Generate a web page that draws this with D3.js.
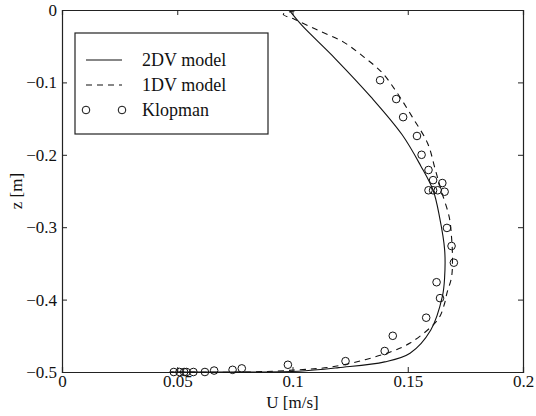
<!DOCTYPE html>
<html>
<head>
<meta charset="utf-8">
<script src="https://cdn.jsdelivr.net/npm/d3@7"></script>
<style>
  body { margin: 0; background: #fff; }
</style>
</head>
<body>
<div id="chart"></div>
<script>
// 2DV model (solid): [U, z]
var model2dv = [
  [0.099, -0.002], [0.104, -0.021], [0.1185, -0.067], [0.134, -0.120], [0.1475, -0.172],
  [0.1556, -0.215], [0.161, -0.249], [0.1638, -0.286], [0.166, -0.331], [0.166, -0.369],
  [0.165, -0.396], [0.160, -0.442], [0.151, -0.474], [0.140, -0.486], [0.120, -0.494],
  [0.1026, -0.499], [0.081, -0.5], [0.047, -0.5]
];
// 1DV model (dashed)
var model1dv = [
  [0.101, -0.001], [0.096, -0.006], [0.101, -0.013], [0.111, -0.028], [0.122, -0.044],
  [0.131, -0.065], [0.139, -0.087], [0.1455, -0.115], [0.152, -0.148], [0.1586, -0.184],
  [0.162, -0.221], [0.1645, -0.249], [0.168, -0.286], [0.169, -0.314], [0.1694, -0.341],
  [0.169, -0.369], [0.167, -0.391], [0.166, -0.405], [0.1638, -0.424], [0.160, -0.438],
  [0.151, -0.46], [0.1427, -0.472], [0.1315, -0.483], [0.117, -0.493], [0.1026, -0.497],
  [0.081, -0.5], [0.047, -0.5]
];
// Klopman measurements
var klopman = [
  [0.138, -0.097], [0.145, -0.123], [0.148, -0.148], [0.154, -0.174], [0.156, -0.200],
  [0.159, -0.221], [0.161, -0.235], [0.165, -0.239], [0.159, -0.249], [0.161, -0.249],
  [0.163, -0.249], [0.166, -0.251], [0.167, -0.301], [0.169, -0.326], [0.170, -0.349],
  [0.1625, -0.376], [0.164, -0.398], [0.158, -0.425], [0.1435, -0.45], [0.140, -0.471],
  [0.123, -0.485], [0.098, -0.49], [0.078, -0.495], [0.074, -0.497], [0.066, -0.498],
  [0.062, -0.5], [0.057, -0.5], [0.054, -0.5], [0.053, -0.5], [0.051, -0.5], [0.0485, -0.5]
];
var xTicks = [0, 0.05, 0.1, 0.15, 0.2];
var yTicks = [0, -0.1, -0.2, -0.3, -0.4, -0.5];
var legendNames = ["2DV model", "1DV model", "Klopman"];

var serif = "'Liberation Serif', 'Times New Roman', 'DejaVu Serif', serif";
var width = 536, height = 416;
var margin = { left: 62, right: 13, top: 10, bottom: 44 };
var svg = d3.select("#chart").append("svg")
    .attr("width", width)
    .attr("height", height);

var x = d3.scaleLinear().domain([0, 0.2]).range([margin.left, width - margin.right]);
var y = d3.scaleLinear().domain([-0.5, 0]).range([height - margin.bottom, margin.top]);

var fmt = function (d) { return d === 0 ? "0" : String(+d.toFixed(2)).replace("-", "\u2212"); };

// axes with inward ticks on all sides
var gx = svg.append("g").attr("transform", "translate(0," + y(-0.5) + ")")
    .call(d3.axisBottom(x).tickValues(xTicks).tickSize(-5).tickPadding(3).tickFormat(fmt));
var gx2 = svg.append("g").attr("transform", "translate(0," + y(0) + ")")
    .call(d3.axisTop(x).tickValues(xTicks).tickSize(-5).tickFormat(""));
var gy = svg.append("g").attr("transform", "translate(" + x(0) + ",0)")
    .call(d3.axisLeft(y).tickValues(yTicks).tickSize(-5).tickPadding(5).tickFormat(fmt));
var gy2 = svg.append("g").attr("transform", "translate(" + x(0.2) + ",0)")
    .call(d3.axisRight(y).tickValues(yTicks).tickSize(-5).tickFormat(""));
[gx, gx2, gy, gy2].forEach(function (g) {
    g.attr("font-family", serif).attr("font-size", 17);
    g.select(".domain").attr("stroke", "#222").attr("stroke-width", 1.2);
    g.selectAll(".tick line").attr("stroke", "#222");
    g.selectAll("text").attr("fill", "#111");
});

svg.append("text").attr("x", x(0.1)).attr("y", 408)
    .attr("text-anchor", "middle").attr("font-family", serif).attr("font-size", 17)
    .attr("fill", "#111").text("U  [m/s]");
svg.append("text").attr("transform", "translate(22," + y(-0.25) + ") rotate(-90)")
    .attr("text-anchor", "middle").attr("font-family", serif).attr("font-size", 17)
    .attr("fill", "#111").text("z  [m]");

var line = d3.line()
    .curve(d3.curveCatmullRom.alpha(0.5))
    .x(function (d) { return x(d[0]); })
    .y(function (d) { return y(d[1]); });

svg.append("path").datum(model2dv).attr("d", line)
    .attr("fill", "none").attr("stroke", "#111").attr("stroke-width", 1.1);
svg.append("path").datum(model1dv).attr("d", line)
    .attr("fill", "none").attr("stroke", "#111").attr("stroke-width", 1.1)
    .attr("stroke-dasharray", "6,5");

svg.append("g").selectAll("circle").data(klopman).enter().append("circle")
    .attr("cx", function (d) { return x(d[0]); })
    .attr("cy", function (d) { return y(d[1]); })
    .attr("r", 3.8)
    .attr("fill", "none").attr("stroke", "#111").attr("stroke-width", 1);

// legend
var lg = svg.append("g");
lg.append("rect").attr("x", 75).attr("y", 33).attr("width", 193).attr("height", 101)
    .attr("fill", "#fff").attr("stroke", "#222").attr("stroke-width", 1.2);
legendNames.forEach(function (name, i) {
    var ly = 60 + i * 25;
    if (i < 2) {
        lg.append("line").attr("x1", 86).attr("x2", 122).attr("y1", ly).attr("y2", ly)
            .attr("stroke", "#111").attr("stroke-width", 1.1)
            .attr("stroke-dasharray", i === 1 ? "6,5" : null);
    } else {
        [86, 122].forEach(function (cx) {
            lg.append("circle").attr("cx", cx).attr("cy", ly).attr("r", 3.8)
                .attr("fill", "none").attr("stroke", "#111");
        });
    }
    lg.append("text").attr("x", 142).attr("y", ly + 6)
        .attr("font-family", serif).attr("font-size", 18).attr("fill", "#111").text(name);
});
</script>
</body>
</html>
